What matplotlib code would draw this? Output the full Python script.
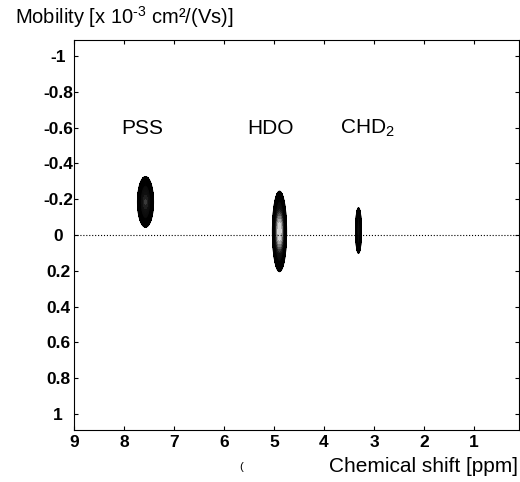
import numpy as np
import matplotlib
matplotlib.use("Agg")
import matplotlib.pyplot as plt
from matplotlib.colors import LinearSegmentedColormap

plt.rcParams['font.family'] = ['Liberation Sans', 'DejaVu Sans']
plt.rcParams['mathtext.fontset'] = 'custom'
plt.rcParams['mathtext.rm'] = 'Liberation Sans'
plt.rcParams['mathtext.it'] = 'Liberation Sans:italic'
plt.rcParams['mathtext.bf'] = 'Liberation Sans:bold'

# peaks: name, chemical shift [ppm], mobility, half widths, relative height
peak_names = ['PSS', 'HDO', 'CHD$_2$']
peak_shift = [7.57, 4.89, 3.31]
peak_mobility = [-0.185, -0.02, -0.025]
peak_width_ppm = [0.075, 0.058, 0.03]
peak_width_mob = [0.066, 0.092, 0.065]
peak_height = [0.5, 1.0, 0.35]
label_shift = [7.64, 5.07, 3.14]
label_mobility = [-0.595, -0.595, -0.595]

xticks = [9, 8, 7, 6, 5, 4, 3, 2, 1]
yticks = [-1, -0.8, -0.6, -0.4, -0.2, 0, 0.2, 0.4, 0.6, 0.8, 1]
ytick_labels = ['-1', '-0.8', '-0.6', '-0.4', '-0.2', '0', '0.2', '0.4', '0.6', '0.8', '1']

x = np.linspace(0.1, 9, 900)
y = np.linspace(-1.1, 1.1, 600)
X, Y = np.meshgrid(x, y)
Z = np.zeros_like(X)
for s, m, wx, wy, h in zip(peak_shift, peak_mobility, peak_width_ppm, peak_width_mob, peak_height):
    Z += h * np.exp(-((X - s) / wx) ** 2 / 2 - ((Y - m) / wy) ** 2 / 2)

fig = plt.figure(figsize=(5.2, 4.82), dpi=100)
ax = fig.add_axes([74 / 520, 1 - 430 / 482, 445 / 520, 390 / 482])

cmap = LinearSegmentedColormap.from_list('peak', [(0, 'black'), (0.4, '#111111'), (1.0, 'white')])
levels = np.geomspace(0.05, 1.0, 22)
ax.contourf(X, Y, Z, levels=list(levels) + [2], cmap=cmap, vmin=0.0, vmax=1.05)
ax.contour(X, Y, Z, levels=levels[:10], colors='black', linewidths=0.7)

ax.axhline(0, color='black', linestyle=':', linewidth=0.8)

for name, s, m in zip(peak_names, label_shift, label_mobility):
    ax.text(s, m, name, fontsize=15, ha='center', va='center')

ax.set_xlim(9, 0.1)
ax.set_ylim(1.09, -1.09)
ax.set_xticks(xticks)
ax.set_yticks(yticks)
ax.set_yticklabels(ytick_labels)
ax.tick_params(direction='in', top=True, right=True, length=3, labelsize=12.5)
ax.tick_params(axis='y', pad=11.5)
for lab in ax.get_xticklabels() + ax.get_yticklabels():
    lab.set_fontweight('bold')
for lab in ax.get_yticklabels():
    lab.set_horizontalalignment('center')

fig.text(15 / 520, 1 - 17 / 482, 'Mobility [x 10$^{\\text{-3}}$ cm²/(Vs)]', fontsize=14.5, va='center', ha='left')
fig.text(518 / 520, 1 - 467 / 482, 'Chemical shift [ppm]', fontsize=15, va='center', ha='right')
fig.text(241 / 520, 1 - 467 / 482, '(', fontsize=8, va='center', ha='center')

fig.savefig('out.png', dpi=100)
